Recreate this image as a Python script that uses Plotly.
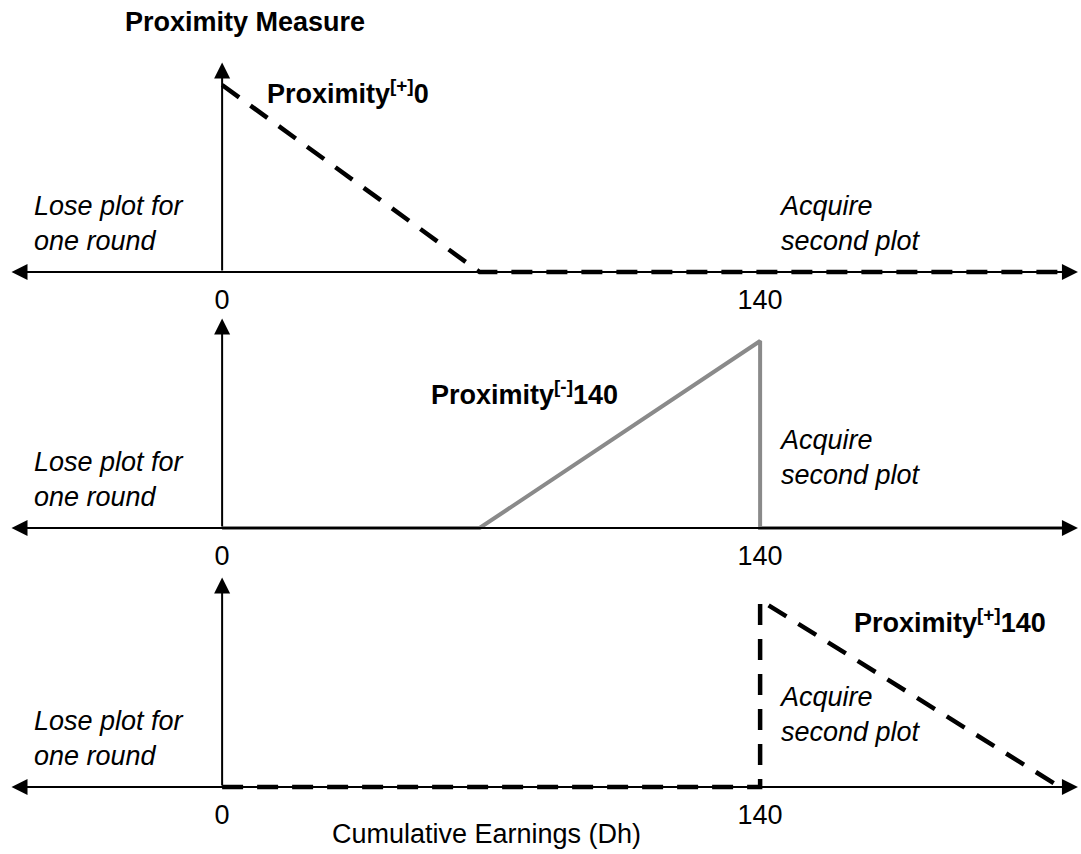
import plotly.graph_objects as go

# ---------------- data ----------------
tick_vals = [0, 140]
tick_text = ["0", "140"]

# Panel 1: Proximity[+]0 (dashed black)
p1_x = [0, 67, 220]
p1_y = [1.0, 0.0, 0.0]
# Panel 2: Proximity[-]140 (solid grey)
p2_x = [0, 67, 140, 140, 219]
p2_y = [0.0, 0.0, 1.0, 0.0, 0.0]
# Panel 3: Proximity[+]140 (dashed black)
p3_x = [0, 140, 140, 218]
p3_y = [0.0, 0.0, 1.0, 0.0]

curve_labels = ["Proximity<sup>[+]</sup>0", "Proximity<sup>[-]</sup>140", "Proximity<sup>[+]</sup>140"]
curve_label_x = [11.2, 53.9, 164.0]
curve_label_y = [0.96, 0.72, 0.89]
lose_text = "Lose plot for<br>one round"
acquire_text = "Acquire<br>second plot"
lose_y = [0.26, 0.26, 0.26]
acquire_y = [0.26, 0.377, 0.39]
title_text = "Proximity Measure"
xlabel_text = "Cumulative Earnings (Dh)"

# ---------------- layout constants ----------------
W, H = 1081, 854
FONT = "Liberation Sans, Arial, sans-serif"
FS = 27
x_range = [-57.8, 223.5]
y_range = [-0.05, 1.15]
arrow_x = [-55.2, 222.7]
arrow_ytop = 1.12
baselines_px = [272, 528, 787]
ppu = 187.0
lose_x = -49.4
acquire_x = 144.5

fig = go.Figure()

series = [
    (p1_x, p1_y, dict(color="black", width=4.5, dash="21px,14px")),
    (p2_x, p2_y, dict(color="#8a8a8a", width=4)),
    (p3_x, p3_y, dict(color="black", width=4.5, dash="21px,14px")),
]

annotations = []
layout_axes = {}
for i, (xs, ys, line) in enumerate(series):
    s = "" if i == 0 else str(i + 1)
    xa, ya = "x" + s, "y" + s
    base = baselines_px[i]
    bottom_px = base - y_range[0] * ppu
    top_px = base - y_range[1] * ppu
    dom = [1 - bottom_px / H, 1 - top_px / H]
    layout_axes["xaxis" + s] = dict(
        domain=[0, 1], range=x_range, anchor=ya, tickmode="array",
        tickvals=tick_vals, ticktext=tick_text, showgrid=False, zeroline=False,
        showline=False, ticks="", tickfont=dict(family=FONT, size=FS, color="black"),
        fixedrange=True,
    )
    layout_axes["yaxis" + s] = dict(
        domain=dom, range=y_range, anchor=xa, visible=False, fixedrange=True,
    )
    # axis arrows
    annotations.append(dict(
        x=arrow_x[1], y=0, ax=arrow_x[0], ay=0, xref=xa, yref=ya, axref=xa, ayref=ya,
        text="", showarrow=True, arrowhead=2, startarrowhead=2, arrowside="end+start",
        arrowwidth=2, arrowsize=1.6, startarrowsize=1.6, arrowcolor="black",
        standoff=0, startstandoff=0,
    ))
    annotations.append(dict(
        x=0, y=arrow_ytop, ax=0, ay=0, xref=xa, yref=ya, axref=xa, ayref=ya,
        text="", showarrow=True, arrowhead=2, arrowwidth=2, arrowsize=1.6,
        arrowcolor="black", standoff=0, startstandoff=0,
    ))
    fig.add_trace(go.Scatter(
        x=xs, y=ys, mode="lines", line=line, xaxis=xa, yaxis=ya,
        cliponaxis=False, showlegend=False, hoverinfo="skip",
    ))
    annotations.append(dict(
        x=curve_label_x[i], y=curve_label_y[i], xref=xa, yref=ya, showarrow=False,
        text="<b>" + curve_labels[i] + "</b>", xanchor="left", yanchor="middle",
        font=dict(family=FONT, size=FS, color="black"),
    ))
    annotations.append(dict(
        x=lose_x, y=lose_y[i], xref=xa, yref=ya, showarrow=False,
        text="<i>" + lose_text + "</i>", xanchor="left", yanchor="middle", align="left",
        font=dict(family=FONT, size=FS, color="black"),
    ))
    annotations.append(dict(
        x=acquire_x, y=acquire_y[i], xref=xa, yref=ya, showarrow=False,
        text="<i>" + acquire_text + "</i>", xanchor="left", yanchor="middle", align="left",
        font=dict(family=FONT, size=FS, color="black"),
    ))

annotations.append(dict(
    x=123 / W, y=1 - 22 / H, xref="paper", yref="paper", showarrow=False,
    text="<b>" + title_text + "</b>", xanchor="left", yanchor="middle",
    font=dict(family=FONT, size=FS, color="black"),
))
annotations.append(dict(
    x=0.45, y=1 - 834 / H, xref="paper", yref="paper", showarrow=False,
    text=xlabel_text, xanchor="center", yanchor="middle",
    font=dict(family=FONT, size=FS, color="black"),
))

fig.update_layout(
    width=W, height=H, margin=dict(l=0, r=0, t=0, b=0),
    paper_bgcolor="white", plot_bgcolor="white",
    annotations=annotations, showlegend=False,
    font=dict(family=FONT, size=FS, color="black"),
    **layout_axes,
)

fig.write_html(
    "out.html",
    config={"displayModeBar": False},
    post_script="document.body.style.margin='0';document.body.style.padding='0';document.body.style.overflow='hidden';",
)
